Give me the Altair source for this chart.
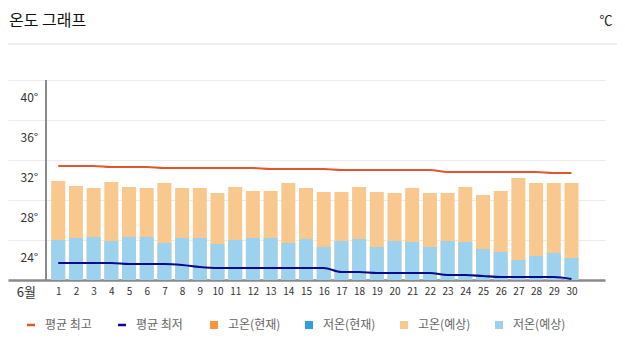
import altair as alt
import pandas as pd

days = list(range(1, 31))
high_fc = [29.9, 29.4, 29.2, 29.8, 29.3, 29.2, 29.7, 29.2, 29.2, 28.7,
           29.3, 28.9, 28.9, 29.7, 29.2, 28.8, 28.8, 29.3, 28.8, 28.7,
           29.2, 28.7, 28.7, 29.3, 28.5, 28.9, 30.2, 29.7, 29.7, 29.7]
low_fc = [24.0, 24.2, 24.3, 23.9, 24.3, 24.3, 23.7, 24.2, 24.2, 23.6,
          24.0, 24.2, 24.2, 23.7, 24.1, 23.3, 23.9, 24.1, 23.3, 23.9,
          23.8, 23.3, 23.9, 23.8, 23.1, 22.8, 22.0, 22.4, 22.7, 22.2]
avg_high = [31.4, 31.4, 31.4, 31.3, 31.3, 31.3, 31.2, 31.2, 31.2, 31.2,
            31.2, 31.2, 31.1, 31.1, 31.1, 31.1, 31.0, 31.0, 31.0, 31.0,
            31.0, 31.0, 30.8, 30.8, 30.8, 30.8, 30.8, 30.8, 30.7, 30.7]
avg_low = [21.7, 21.7, 21.7, 21.7, 21.6, 21.6, 21.6, 21.5, 21.3, 21.2,
           21.2, 21.2, 21.2, 21.2, 21.2, 21.2, 20.8, 20.8, 20.7, 20.7,
           20.7, 20.7, 20.5, 20.5, 20.4, 20.3, 20.3, 20.3, 20.3, 20.1]
y_ticks = [20, 24, 28, 32, 36, 40]
month_label = "6월"
month_pos = -0.8333
title_text = "온도 그래프"
unit_label = "℃"

bar_series = ["고온(현재)", "저온(현재)", "고온(예상)", "저온(예상)"]
bar_range = ["#f7963a", "#2fa0dc", "#f9c88f", "#9dd2ee"]
line_series = ["평균 최고", "평균 최저"]
line_range = ["#e2562b", "#0b0b8a"]

FONT = "Noto Sans CJK KR"

hi_df = pd.DataFrame({"day": days, "value": high_fc, "series": "고온(예상)"})
lo_df = pd.DataFrame({"day": days, "value": low_fc, "series": "저온(예상)"})
line_df = pd.DataFrame({
    "day": days + days,
    "value": avg_high + avg_low,
    "series": ["평균 최고"] * 30 + ["평균 최저"] * 30,
})

x_scale = alt.Scale(domain=[-1.5556, 31.6111], nice=False, zero=False)
y_scale = alt.Scale(domain=[20, 43.6], nice=False, zero=False)
color_scale = alt.Scale(domain=bar_series, range=bar_range)
stroke_scale = alt.Scale(domain=line_series, range=line_range)

x_axis = alt.Axis(
    values=[month_pos] + days,
    labelExpr=f"datum.value < 0 ? '{month_label}' : format(datum.value, 'd')",
    grid=False, ticks=False, domain=True, domainColor="#8a8a8a", domainWidth=2.5,
    labelPadding=6, labelFontSize={"condition": {"test": "datum.value < 0", "value": 13}, "value": 10},
    labelColor="#333", labelFont=FONT, labelOverlap=False, labelFlush=False, labelBound=False,
    title=None,
)
y_axis = alt.Axis(
    values=y_ticks,
    labelExpr="datum.value == 20 ? '' : datum.value + '°'",
    grid=True, gridColor="#ececec", gridWidth=1, ticks=False, domain=False,
    labelAlign="left", labelBaseline="middle", labelPadding=-12, labelOffset=17,
    labelFontSize=12, labelColor="#333", labelFont=FONT, labelOverlap=False,
    labelFlush=False, title=None,
)

bar_legend = alt.Legend(
    orient="none", legendX=200, legendY=275, direction="horizontal", title=None,
    symbolType="square", symbolSize=64, symbolStrokeWidth=0, labelFontSize=12,
    labelColor="#666", labelFont=FONT, columnPadding=22, labelOffset=8,
)
line_legend = alt.Legend(
    orient="none", legendX=17, legendY=275, direction="horizontal", title=None,
    symbolType="stroke", symbolSize=64, symbolStrokeWidth=2.5, labelFontSize=12,
    labelColor="#666", labelFont=FONT, columnPadding=21, labelOffset=8,
)

X = alt.X("day:Q", scale=x_scale, axis=x_axis)
Y = alt.Y("value:Q", scale=y_scale, axis=y_axis)

high_bars = alt.Chart(hi_df).mark_bar(width=14).encode(
    x=X, y=Y, y2=alt.datum(20),
    color=alt.Color("series:N", scale=color_scale, legend=bar_legend),
)
low_bars = alt.Chart(lo_df).mark_bar(width=14).encode(
    x=X, y=Y, y2=alt.datum(20),
    color=alt.Color("series:N", scale=color_scale, legend=bar_legend),
)
lines = alt.Chart(line_df).mark_line(strokeWidth=2.2, interpolate="monotone").encode(
    x=X, y=Y,
    stroke=alt.Stroke("series:N", scale=stroke_scale, legend=line_legend),
    detail="series:N",
)

one = pd.DataFrame({"title": [title_text], "unit": [unit_label]})
y_axis_line = alt.Chart(one).mark_rule(color="#8a8a8a", strokeWidth=2).encode(
    x=alt.value(38), y=alt.datum(40), y2=alt.datum(20),
)
separator = alt.Chart(one).mark_rule(color="#dddddd", strokeWidth=1).encode(
    x=alt.value(0), x2=alt.value(609), y=alt.value(0),
)
title_mark = alt.Chart(one).mark_text(fontSize=16, font=FONT, color="#111", align="left", baseline="middle").encode(
    x=alt.value(1), y=alt.value(-23), text="title:N",
)
unit_text = alt.Chart(one).mark_text(fontSize=13, font=FONT, color="#222", align="center", baseline="middle").encode(
    x=alt.value(598), y=alt.value(-23), text="unit:N",
)

chart = alt.layer(
    separator, high_bars, low_bars, y_axis_line, lines, title_mark, unit_text,
).properties(
    width=597, height=236,
    padding={"left": 0, "top": 36, "right": 12, "bottom": 60},
    autosize=alt.AutoSizeParams(type="none"),
).configure_view(stroke=None).configure_axisX(labelOverlap=False)

chart.save("out.html", embed_options={"renderer": "svg", "actions": False})
